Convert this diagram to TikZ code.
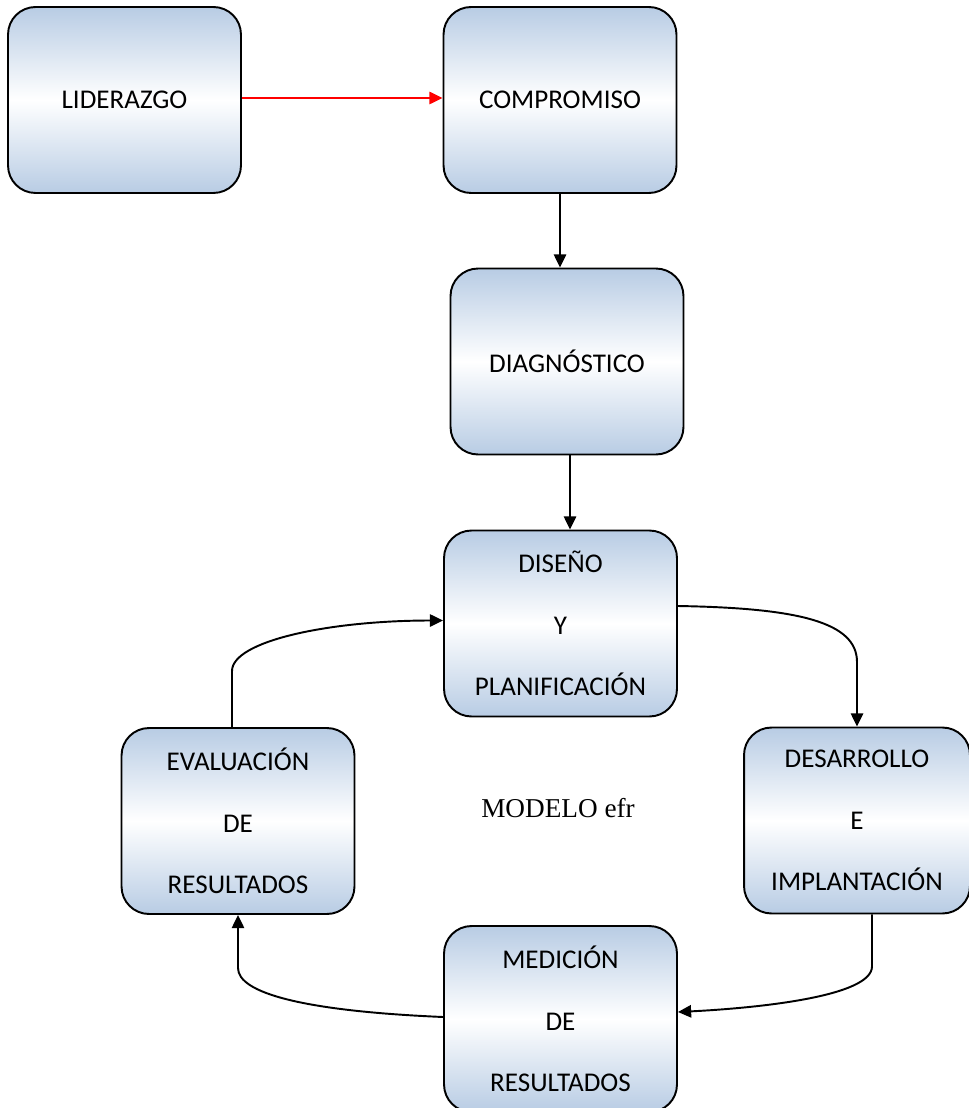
\documentclass[tikz,border=0pt]{standalone}
\usepackage{fontspec}
\setmainfont{Carlito}
\newfontfamily\modelofont{Liberation Serif}
\usetikzlibrary{arrows.meta}
\definecolor{boxblue}{RGB}{184,204,228}
\begin{document}
\begin{tikzpicture}[x=0.02cm,y=-0.02cm,
  box/.style={draw=black,line width=1.1pt,rounded corners=0.55cm,
    minimum width=4.66cm,minimum height=3.72cm,
    top color=boxblue,bottom color=boxblue,middle color=white,
    align=center,font=\fontsize{15.4}{35}\selectfont},
  arr/.style={line width=1.1pt,-{Triangle[length=7.5pt,width=7pt]}}]
\useasboundingbox (0,0) rectangle (968,1108);
 % top row:
\node[box] (lid) at (124.5,100) {LIDERAZGO};
\node[box] (com) at (560,100) {COMPROMISO};
 % diagnostico:
\node[box] (dia) at (567,361.5) {DIAGNÓSTICO};
 % the cycle:
\node[box] (dis) at (560.5,623.5) {DISEÑO\\Y\\PLANIFICACIÓN};
\node[box,minimum width=4.52cm] (des) at (857,820.5) {DESARROLLO\\E\\IMPLANTACIÓN};
\node[box] (med) at (560.5,1019) {MEDICIÓN\\DE\\RESULTADOS};
\node[box] (eva) at (238,821) {EVALUACIÓN\\DE\\RESULTADOS};
\node (mod) at (558,808) {\modelofont\fontsize{15.5}{18}\selectfont MODELO efr};
 % straight arrows:
\draw[arr,red] ([yshift=0.04cm]lid.east) -- ([yshift=0.04cm]com.west);
\draw[arr] (com.south) -- (com.south |- dia.north);
\draw[arr] ([xshift=0.06cm]dia.south) -- ([xshift=0.06cm]dia.south |- dis.north);
 % curved arrows round the cycle:
\draw[arr] ([yshift=0.35cm]dis.east) .. controls +(120,2) and +(0,-40) .. (des.north |- 0,662) -- (des.north);
\draw[arr] ([xshift=0.3cm]des.south) -- ++(0,52) .. controls +(0,30) and +(80,-4) .. ([yshift=0.14cm]med.east);
\draw[arr] ([yshift=0.04cm]med.west) .. controls +(-140,-6) and +(0,25) .. (eva.south |- 0,968) -- (eva.south);
\draw[arr] ([xshift=-0.12cm]eva.north) -- ++(0,-56) .. controls +(0,-30) and +(-114,0) .. ([yshift=0.06cm]dis.west);
\end{tikzpicture}
\end{document}
